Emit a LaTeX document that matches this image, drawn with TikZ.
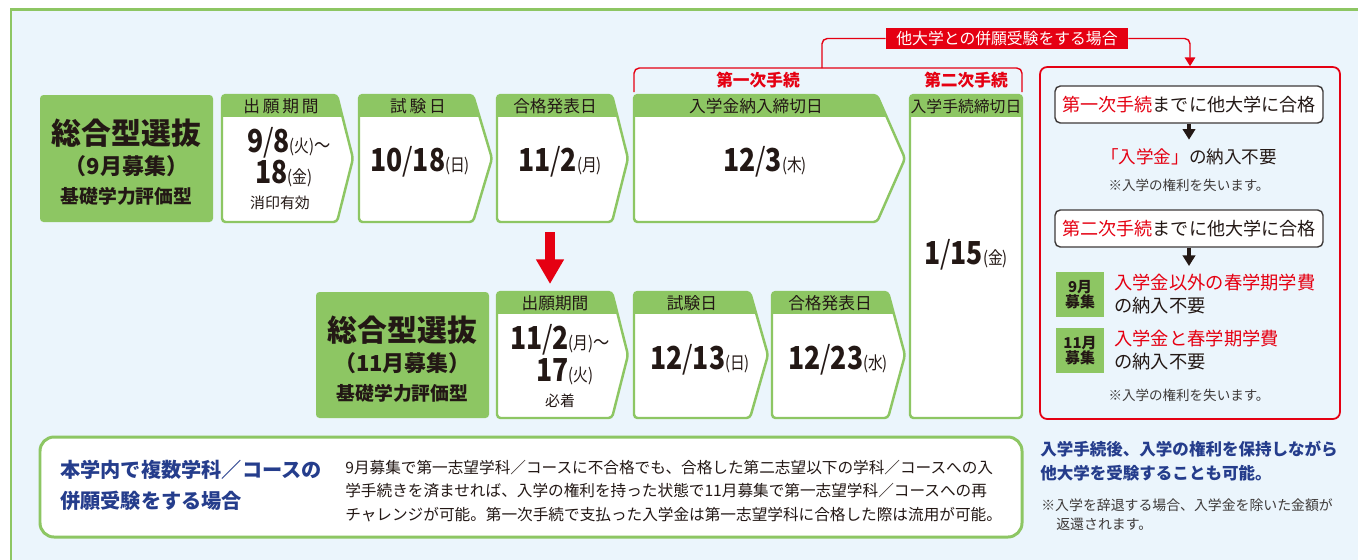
\documentclass[tikz,border=0pt]{standalone}
\usepackage{fontspec}
\usepackage{xcolor}
\usepackage{tikz}
\usetikzlibrary{arrows.meta}
\setmainfont{Noto Sans CJK JP}
\newfontfamily\numfont{Noto Sans CJK JP}[FakeStretch=0.84]
\definecolor{kgreen}{HTML}{8DC663}
\definecolor{bgblue}{HTML}{EBF5FC}
\definecolor{kred}{HTML}{E50012}
\definecolor{ink}{HTML}{231815}
\definecolor{navy}{HTML}{253D8C}
\definecolor{note}{HTML}{3E3A39}
\newcommand{\fs}[1]{\fontsize{#1}{#1}\selectfont}
\newcommand{\dow}[1]{{\fs{10}\mdseries(#1)}}
\newcommand{\tld}{{\fs{11}\mdseries～}}
\newcommand{\arrowbox}[6]{%
  \begin{scope}
    \clip[rounded corners=2pt] (#1,#4) -- (#2,#4) -- (#3,{(#4+#5)/2}) -- (#2,#5) -- (#1,#5) -- cycle;
    \fill[white] (#1,#4) rectangle (#3,#5);
    \fill[kgreen] (#1,#4) rectangle (#3,#6);
  \end{scope}
  \draw[boxline] (#1,#4) -- (#2,#4) -- (#3,{(#4+#5)/2}) -- (#2,#5) -- (#1,#5) -- cycle;
}

\begin{document}
\begin{tikzpicture}[x=0.02cm,y=-0.02cm]
\tikzstyle{every node}+=[inner sep=0pt, text=ink]
\tikzstyle{boxline}=[draw=kgreen, line width=1.4pt, rounded corners=2pt]
\tikzstyle{headtext}=[font=\fs{9.5}]
\tikzstyle{datetext}=[font=\numfont\fs{18}\bfseries]
\tikzstyle{redline}=[draw=kred, line width=0.8pt, rounded corners=3pt]
\tikzstyle{darrow}=[draw=ink, line width=1.8pt, -{Triangle[width=7pt,length=6pt]}]
\tikzstyle{passbox}=[draw=note, fill=white, line width=0.8pt, rounded corners=3pt, minimum width=5.36cm, minimum height=0.74cm, font=\fs{10.3}]
\tikzstyle{badge}=[fill=kgreen, minimum width=0.96cm, minimum height=0.9cm, align=center, font=\fs{8.5}\bfseries]
\tikzstyle{smallnote}=[text=note, font=\fs{7.7}]
\useasboundingbox (0,0) rectangle (1358,559);
\fill[white] (0,0) rectangle (1358,559);
\draw[kgreen, fill=bgblue, line width=1.7pt] (11,9) rectangle (1400,600);

\fill[kgreen, rounded corners=2pt] (40,95) rectangle (213,222);
\node[font=\fs{17}\bfseries] (title9a) at (126.5,133) {総合型選抜};
\node[font=\fs{12.5}\bfseries] (title9b) at (126.5,166) {（9月募集）};
\node[font=\fs{10.7}\bfseries] (title9c) at (126.5,196) {基礎学力評価型};

\arrowbox{222}{337}{353}{95}{222}{117}
\node[headtext] at (281,106) {出\,願\,期\,間};
\node[datetext] (apply9a) at (289,143) {9{\mdseries/}8\dow{火}\tld};
\node[datetext] (apply9b) at (284,174) {18\dow{金}};
\node[font=\fs{8.5}] (apply9c) at (280,203) {消印有効};

\arrowbox{359}{473}{492}{95}{222}{117}
\node[headtext] at (418,106) {試\,験\,日};
\node[datetext] (exam9) at (420,162) {10{\mdseries/}18\dow{日}};

\arrowbox{497}{612}{628}{95}{222}{117}
\node[headtext] at (555,106) {合格発表日};
\node[datetext] (result9) at (560,162) {11{\mdseries/}2\dow{月}};

\arrowbox{634}{877}{905}{95}{222}{117}
\node[headtext] at (756,106) {入学金納入締切日};
\node[datetext] (fee9) at (765,162) {12{\mdseries/}3\dow{木}};

\begin{scope}
\clip[rounded corners=2pt] (910,95) rectangle (1022,418);
\fill[white] (910,95) rectangle (1022,418);
\fill[kgreen] (910,95) rectangle (1022,117);
\end{scope}
\draw[boxline] (910,95) rectangle (1022,418);
\node[headtext, font=\fs{9}] at (966,106) {入学手続締切日};
\node[datetext] (proc) at (966,255) {1{\mdseries/}15\dow{金}};

\node[font=\fs{9.5}\bfseries, text=kred] (first) at (758,80) {第一次手続};
\node[font=\fs{9.5}\bfseries, text=kred] (second) at (966,80) {第二次手続};
\draw[redline] (634,92) -- (634,68) -- (1022,68) -- (1022,92);
\node[fill=kred, text=white, minimum width=4.84cm, minimum height=0.42cm, font=\fs{9}] (heigan) at (1007,38.5) {他大学との併願受験をする場合};
\draw[redline] (822,68) |- (heigan.west);

\coordinate (result9b) at (550,232);
\coordinate (apply11t) at (550,284);
\draw[kred, line width=5.7pt, -{Triangle[width=15pt,length=14pt]}] (result9b) -- (apply11t);

\fill[kgreen, rounded corners=2pt] (316,292) rectangle (489,418);
\node[font=\fs{17}\bfseries] (title11a) at (402.5,330) {総合型選抜};
\node[font=\fs{12.5}\bfseries] (title11b) at (402.5,363) {（11月募集）};
\node[font=\fs{10.7}\bfseries] (title11c) at (402.5,393) {基礎学力評価型};

\arrowbox{497}{612}{628}{292}{418}{314}
\node[headtext] at (555,303) {出願期間};
\node[datetext] (apply11a) at (560,340) {11{\mdseries/}2\dow{月}\tld};
\node[datetext] (apply11b) at (565,372) {17\dow{火}};
\node[font=\fs{8.5}] (apply11c) at (560,401) {必着};

\arrowbox{634}{750}{768}{292}{418}{314}
\node[headtext] at (692,303) {試験日};
\node[datetext] (exam11) at (700,360) {12{\mdseries/}13\dow{日}};

\arrowbox{772}{888}{905}{292}{418}{314}
\node[headtext] at (830,303) {合格発表日};
\node[datetext] (result11) at (838,360) {12{\mdseries/}23\dow{水}};

\node[draw=kred, line width=1pt, rounded corners=4pt, minimum width=6cm, minimum height=7.04cm] (altbox) at (1190,243) {};
\draw[redline, -{Triangle[width=6pt,length=5pt]}] (heigan.east) -| (altbox.north);

\node[passbox] (pass1) at (1189,104.5) {{\color{kred}第一次手続}までに他大学に合格};
\node[font=\fs{10}] (nofee) at (1189,157) {{\color{kred}「入学金」}の納入不要};
\draw[darrow] (pass1.south) -- ([yshift=5pt]nofee.north);
\node[smallnote] (note1) at (1189,185) {※入学の権利を失います。};

\node[passbox] (pass2) at (1189,228.5) {{\color{kred}第二次手続}までに他大学に合格};
\coordinate (arr2e) at (1189,266);
\draw[darrow] (pass2.south) -- (arr2e);

\node[badge] (badge9) at (1080,294.5) {9月\\募集};
\node[anchor=west, font=\fs{10.4}, text=kred] (spring9) at (1114,283) {入学金以外の春学期学費};
\node[anchor=west, font=\fs{10.4}] (spring9b) at (1114,306) {の納入不要};
\node[badge] (badge11) at (1080,350.5) {11月\\募集};
\node[anchor=west, font=\fs{10.4}, text=kred] (spring11) at (1114,339) {入学金と春学期学費};
\node[anchor=west, font=\fs{10.4}] (spring11b) at (1114,362) {の納入不要};
\node[smallnote] (note2) at (1189,395) {※入学の権利を失います。};

\node[anchor=west, font=\fs{9.4}\bfseries, text=navy] (keep1) at (1040,449) {入学手続後、入学の権利を保持しながら};
\node[anchor=west, font=\fs{9.4}\bfseries, text=navy] (keep2) at (1040,473) {他大学を受験することも可能。};
\node[anchor=west, smallnote, font=\fs{7.9}] (refund1) at (1041,505) {※入学を辞退する場合、入学金を除いた金額が};
\node[anchor=west, smallnote, font=\fs{7.9}] (refund2) at (1056,524) {返還されます。};

\draw[kgreen, fill=white, line width=1.7pt, rounded corners=8pt] (40,437) rectangle (1022,537);
\node[anchor=west, align=left, font=\fontsize{11.5}{17.5}\selectfont\bfseries, text=navy] (inner) at (60,485) {本学内で複数学科／コースの\\併願受験をする場合};
\node[anchor=west, align=left, font=\fontsize{8.9}{13.6}\selectfont] (inner2) at (345,491) {9月募集で第一志望学科／コースに不合格でも、合格した第二志望以下の学科／コースへの入\\学手続きを済ませれば、入学の権利を持った状態で11月募集で第一志望学科／コースへの再\\チャレンジが可能。第一次手続で支払った入学金は第一志望学科に合格した際は流用が可能。};
\end{tikzpicture}
\end{document}
